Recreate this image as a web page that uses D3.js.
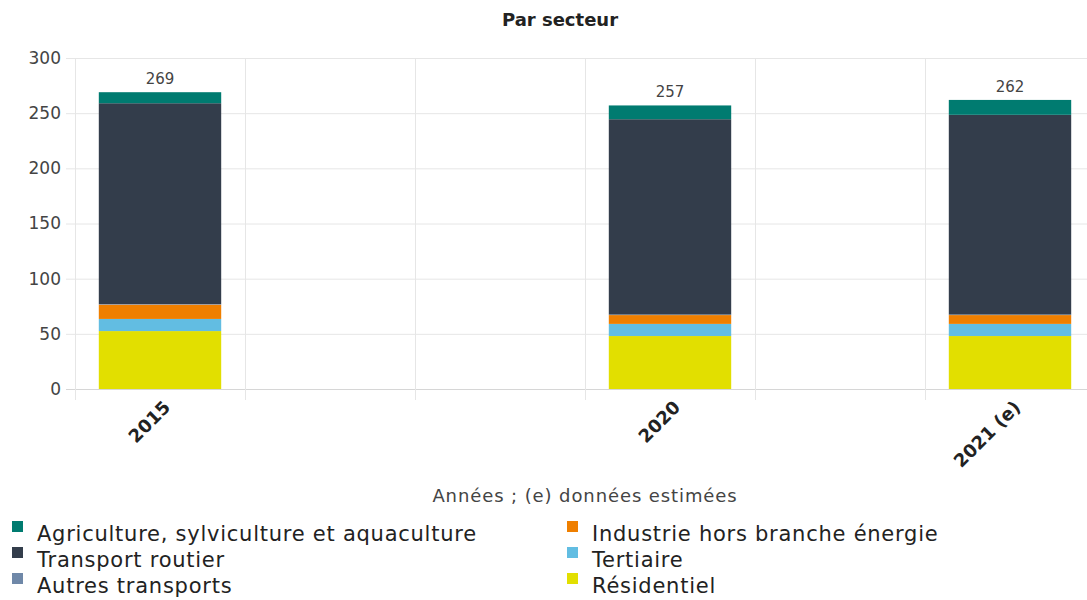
<!DOCTYPE html>
<html>
<head>
<meta charset="utf-8">
<script src="https://cdn.jsdelivr.net/npm/d3@7"></script>
<style>
  body { margin: 0; background: #fff; }
  svg { font-family: "DejaVu Sans", sans-serif; display: block; }
</style>
</head>
<body>
<div id="chart"></div>
<script>
// Slots on the x axis (empty slots have no label, as in the original)
var slotLabels = ["2015", "", "", "2020", "", "2021 (e)"];
var years = ["2015", "2020", "2021 (e)"];
var yearSlot = [0, 3, 5];

// Sectors, stacked from bottom to top
var sectors = ["Résidentiel", "Tertiaire", "Industrie hors branche énergie",
               "Autres transports", "Transport routier",
               "Agriculture, sylviculture et aquaculture"];
var colors = ["#e2df00", "#62bde2", "#ef7f00", "#6f88a8", "#333d4b", "#007b70"];

var residentiel = [52.5, 48, 48];
var tertiaire   = [11, 11, 11];
var industrie   = [13, 8, 8];
var autres      = [0.5, 0.5, 0.5];
var routier     = [182, 177, 181];
var agriculture = [10, 12.5, 13.5];
var totals      = [269, 257, 262];

var yTicks = [0, 50, 100, 150, 200, 250, 300];

// legend order (two columns)
var legendOrder = ["Agriculture, sylviculture et aquaculture", "Industrie hors branche énergie",
                   "Transport routier", "Tertiaire",
                   "Autres transports", "Résidentiel"];

function init() {
    var w = 1087, h = 600;
    var margin = { top: 58, left: 75, bottom: 211 };
    var plotRight = 1095;

    var svg = d3.select("#chart").append("svg")
        .attr("width", w)
        .attr("height", h);

    // build table rows for the stack
    var seriesValues = [residentiel, tertiaire, industrie, autres, routier, agriculture];
    var rows = years.map(function(y, i) {
        var r = { year: y, slot: yearSlot[i] };
        sectors.forEach(function(s, k) { r[s] = seriesValues[k][i]; });
        return r;
    });
    var stacked = d3.stack().keys(sectors)(rows);

    var x = d3.scaleBand()
        .domain(d3.range(slotLabels.length))
        .range([margin.left, plotRight])
        .paddingInner(0)
        .paddingOuter(0);

    var y = d3.scaleLinear()
        .domain([0, 300])
        .range([h - margin.bottom, margin.top]);

    var color = d3.scaleOrdinal().domain(sectors).range(colors);

    // horizontal grid
    svg.append("g")
        .selectAll("line")
        .data(yTicks)
        .enter().append("line")
        .attr("x1", margin.left - 9)
        .attr("x2", plotRight)
        .attr("y1", function(d) { return y(d) + 0.5; })
        .attr("y2", function(d) { return y(d) + 0.5; })
        .attr("stroke", function(d) { return d === 0 ? "#d6d6d6" : "#e6e6e6"; })
        .attr("stroke-width", 1);

    // vertical grid at slot boundaries
    var bounds = d3.range(slotLabels.length + 1).map(function(i) {
        return margin.left + i * x.bandwidth();
    });
    svg.append("g")
        .selectAll("line")
        .data(bounds)
        .enter().append("line")
        .attr("x1", function(d) { return Math.round(d) + 0.5; })
        .attr("x2", function(d) { return Math.round(d) + 0.5; })
        .attr("y1", y(300))
        .attr("y2", y(0) + 11)
        .attr("stroke", "#e6e6e6");

    // y tick labels
    svg.append("g")
        .selectAll("text")
        .data(yTicks)
        .enter().append("text")
        .attr("x", 61)
        .attr("y", function(d) { return y(d); })
        .attr("dy", "0.35em")
        .attr("text-anchor", "end")
        .attr("font-size", 17)
        .attr("fill", "#444")
        .text(function(d) { return d; });

    // bars
    var barW = x.bandwidth() * 0.72;
    svg.append("g")
        .selectAll("g")
        .data(stacked)
        .enter().append("g")
        .attr("fill", function(d) { return color(d.key); })
        .selectAll("rect")
        .data(function(d) { return d; })
        .enter().append("rect")
        .attr("x", function(d) { return x(d.data.slot) + (x.bandwidth() - barW) / 2; })
        .attr("width", barW)
        .attr("y", function(d) { return y(d[1]); })
        .attr("height", function(d) { return Math.max(0, y(d[0]) - y(d[1])); });

    // totals above bars
    svg.append("g")
        .selectAll("text")
        .data(years)
        .enter().append("text")
        .attr("x", function(d, i) { return x(yearSlot[i]) + x.bandwidth() / 2; })
        .attr("y", function(d, i) { return y(totals[i]) - 8; })
        .attr("text-anchor", "middle")
        .attr("font-size", 15)
        .attr("fill", "#444")
        .text(function(d, i) { return totals[i]; });

    // x tick labels, rotated
    svg.append("g")
        .selectAll("text")
        .data(slotLabels)
        .enter().append("text")
        .attr("transform", function(d, i) {
            return "translate(" + (x(i) + x.bandwidth() / 2 + 7) + "," + (y(0) + 15) + ") rotate(-45)";
        })
        .attr("text-anchor", "end")
        .attr("dy", "0.35em")
        .attr("font-size", 18)
        .attr("font-weight", "bold")
        .attr("fill", "#222")
        .text(function(d) { return d; });

    // title
    svg.append("text")
        .attr("x", 560)
        .attr("y", 26)
        .attr("text-anchor", "middle")
        .attr("font-size", 18)
        .attr("font-weight", "bold")
        .attr("fill", "#222")
        .text("Par secteur");

    // x axis title
    svg.append("text")
        .attr("x", 585)
        .attr("y", 502)
        .attr("text-anchor", "middle")
        .attr("font-size", 18)
        .attr("letter-spacing", 0.9)
        .attr("fill", "#444")
        .text("Années ; (e) données estimées");

    // legend
    var legend = svg.append("g");
    var item = legend.selectAll("g")
        .data(legendOrder)
        .enter().append("g")
        .attr("transform", function(d, i) {
            var col = i % 2, row = Math.floor(i / 2);
            return "translate(" + (col === 0 ? 12 : 567) + "," + (534 + row * 26) + ")";
        });
    item.append("rect")
        .attr("x", 0)
        .attr("y", -13)
        .attr("width", 11)
        .attr("height", 11)
        .attr("fill", function(d) { return color(d); });
    item.append("text")
        .attr("x", 25)
        .attr("y", 0)
        .attr("dy", "0.35em")
        .attr("font-size", 21)
        .attr("letter-spacing", 0.75)
        .attr("fill", "#222")
        .text(function(d) { return d; });
}

window.onload = init;
</script>
</body>
</html>
